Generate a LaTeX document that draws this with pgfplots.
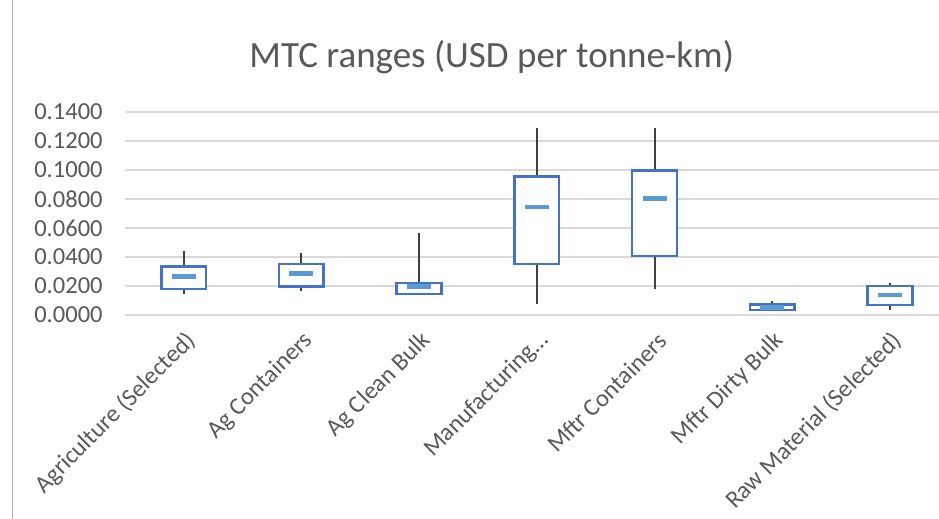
\documentclass[border=0pt]{standalone}
\usepackage{pgfplots}
\pgfplotsset{compat=1.18}
\usepackage{fontspec}
\setmainfont{Carlito}
\definecolor{boxblue}{HTML}{4472C4}
\definecolor{medblue}{HTML}{5B9BD5}
\definecolor{whisk}{HTML}{404040}
\definecolor{gridc}{HTML}{D9D9D9}
\definecolor{txt}{HTML}{595959}
\pgfplotsset{
  bx/.style={draw=boxblue, fill=white, line width=2.5bp, solid, line join=miter},
  wh/.style={whisk, line width=2bp, solid},
}
\begin{document}
\begin{tikzpicture}
\path[use as bounding box] (0,0) rectangle (939bp,519bp);
\draw[color=black!30, line width=1.2bp] (12.5bp,0) -- (12.5bp,519bp);
\node[anchor=base, text=txt, font=\fontsize{37bp}{40bp}\selectfont] at (491.7bp,451bp) {MTC ranges (USD per tonne-km)};
\begin{axis}[
  at={(124.8bp,204bp)}, anchor=south west,
  scale only axis, width=824bp, height=203bp,
  xmin=0.5, xmax=7.5, ymin=0, ymax=0.14,
  xtick={1,2,3,4,5,6,7},
  xticklabels={Agriculture (Selected), Ag Containers, Ag Clean Bulk, Manufacturing…, Mftr Containers, Mftr Dirty Bulk, Raw Material (Selected)},
  ytick={0,0.02,0.04,0.06,0.08,0.10,0.12,0.14},
  ymajorgrids, grid style={gridc, line width=1.5bp},
  axis line style={draw=none}, major tick length=0pt,
  scaled y ticks=false,
  yticklabel style={text=txt, font=\fontsize{24.5bp}{28bp}\selectfont, anchor=east, inner sep=0pt, xshift=-22bp,
    /pgf/number format/.cd, fixed, fixed zerofill, precision=4, assume math mode=true},
  xticklabel style={text=txt, font=\fontsize{24.5bp}{28bp}\selectfont, inner sep=0pt, xshift=8bp, yshift=-22bp, rotate=45, anchor=east},
]
% whiskers: low to high
\addplot[wh] coordinates {(1,0.0145) (1,0.0441)};
\addplot[wh] coordinates {(2,0.0163) (2,0.0425)};
\addplot[wh] coordinates {(3,0.0145) (3,0.0568)};
\addplot[wh] coordinates {(4,0.0074) (4,0.1292)};
\addplot[wh] coordinates {(5,0.0179) (5,0.1292)};
\addplot[wh] coordinates {(6,0.0033) (6,0.0097)};
\addplot[wh] coordinates {(7,0.0034) (7,0.0223)};
% boxes: lower and upper quartile
\addplot[bx] coordinates {(0.81,0.0179) (1.19,0.0179) (1.19,0.0333) (0.81,0.0333)} -- cycle;
\addplot[bx] coordinates {(1.81,0.0195) (2.19,0.0195) (2.19,0.0352) (1.81,0.0352)} -- cycle;
\addplot[bx] coordinates {(2.81,0.0145) (3.19,0.0145) (3.19,0.0221) (2.81,0.0221)} -- cycle;
\addplot[bx] coordinates {(3.81,0.0352) (4.19,0.0352) (4.19,0.0954) (3.81,0.0954)} -- cycle;
\addplot[bx] coordinates {(4.81,0.0407) (5.19,0.0407) (5.19,0.0995) (4.81,0.0995)} -- cycle;
\addplot[bx] coordinates {(5.81,0.0033) (6.19,0.0033) (6.19,0.0072) (5.81,0.0072)} -- cycle;
\addplot[bx] coordinates {(6.81,0.0069) (7.19,0.0069) (7.19,0.0200) (6.81,0.0200)} -- cycle;
% medians
\addplot[only marks, mark=-, mark size=12bp, medblue, mark options={line width=4.5bp, medblue}]
  coordinates {(1,0.0267) (2,0.0285) (3,0.0195) (4,0.0745) (5,0.0802) (6,0.0052) (7,0.0138)};
\end{axis}
\end{tikzpicture}
\end{document}
